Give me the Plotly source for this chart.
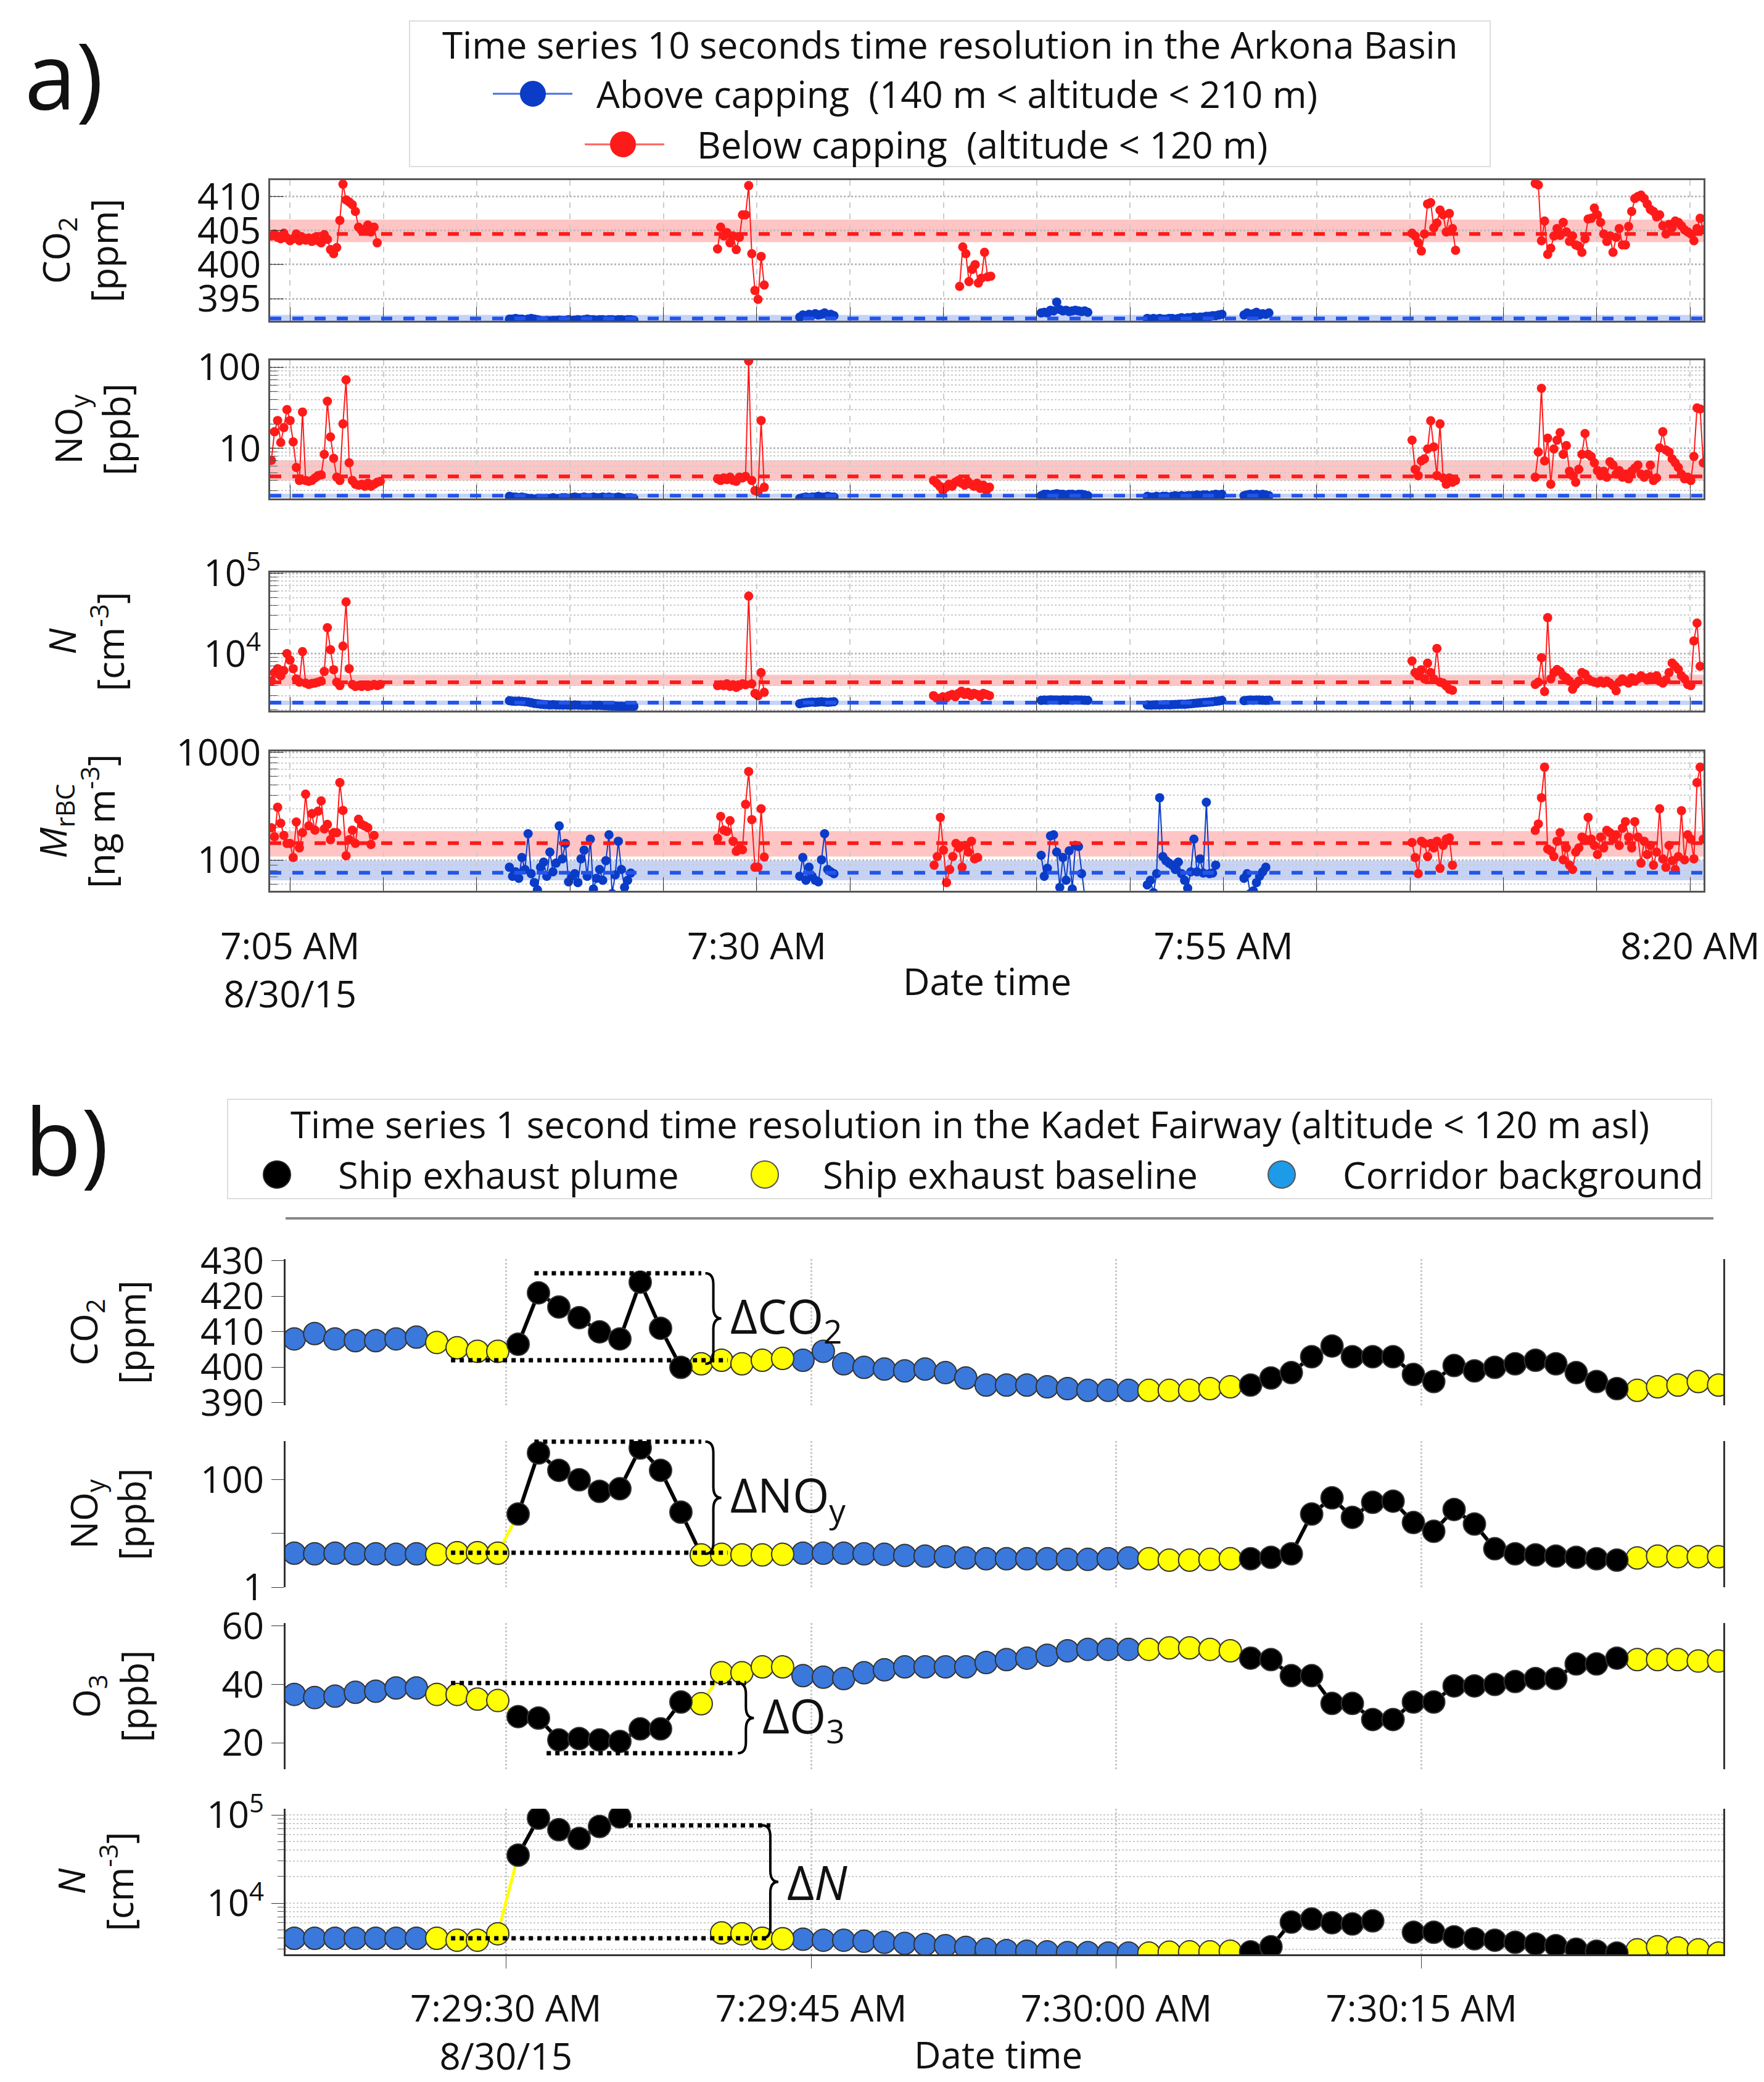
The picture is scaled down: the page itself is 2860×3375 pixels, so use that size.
import numpy as np
import pandas as pd
import plotly.graph_objects as go

DAY = "2015-08-30 "
FONT = "Open Sans"
RED = "#ff1a1a"
BLUE_A = "#0a3cc8"

# ---------------- Panel a data (10 s resolution) ----------------
co2_below = [
    ("07:04:00", [404.2,404.5,404.0,403.8,404.6,403.9,403.5,403.8,404.5,403.5,404.0,403.6,403.9,403.4,404.0,403.5,403.2,404.4,403.7,402.2,401.6,402.5,406.5,411.8,409.5,409.2,408.8,407.8,405.5,405.0,405.2,405.8,404.8,405.5,403.2]),
    ("07:27:54", [402.3,405.5,404.2,404.7,403.2,404.2,402.2,404.0,407.3,407.3,411.6,401.6,396.2,394.9,401.2,397.0]),
    ("07:40:52", [396.8,402.6,401.6,397.5,399.3,400.0,397.3,398.0,401.8,398.2,398.3]),
    ("08:05:06", [404.6,404.2,403.2,402.0,404.5,408.9,409.1,405.4,406.1,408.0,407.3,404.8,407.5,405.3,402.1]),
    ("08:11:42", [411.9,411.7,403.5,406.4,401.5,402.4,404.2,405.3,404.3,406.2,404.8,403.4,404.2,402.9,402.7,401.8,403.8,406.7,406.8,408.3,407.3,406.2,404.5,403.4,404.2,401.8,404.0,405.3,402.9,402.9,405.6,407.8,409.7,410.0,410.2,409.7,408.9,408.1,407.8,407.0,407.3,405.7,404.5,405.9,405.4,406.4,406.2,405.7,405.1,404.8,404.5,403.5,405.3,406.8,405.1,405.3]),
]
co2_above = [
    ("07:16:45", [392.0,392.0,392.1,392.0,392.0,391.9,392.0,392.1,392.0,391.9,391.8,391.75,391.8,391.75,391.8,391.8,391.85,391.8,391.8,391.9,391.8,391.85,391.9,391.85,391.9,392.0,391.9,391.9,391.85,391.9,391.9,391.85,391.9,391.9,391.85,391.9,391.9,391.85,391.9,391.9,391.85]),
    ("07:32:18", [392.3,392.6,392.5,392.7,392.6,392.8,392.6,392.7,392.9,392.6,392.7,392.5]),
    ("07:45:14", [392.9,393.0,392.9,393.3,393.2,394.5,393.4,393.2,393.3,393.1,393.2,393.3,393.2,393.1,393.2,393.0]),
    ("07:50:55", [392.1,392.0,392.1,392.0,392.1,392.0,392.0,392.1,392.1,392.0,392.1,392.2,392.1,392.2,392.2,392.3,392.2,392.3,392.3,392.4,392.4,392.5,392.5,392.6,392.7]),
    ("07:56:06", [392.6,392.9,392.7,392.8,393.0,392.6,392.8,392.7,392.9]),
]
noy_below = [
    ("07:04:00", [7.1,16,22,11.8,18,30,22,12,5.8,4.0,28,4.0,3.9,4.0,4.3,4.6,4.7,8.4,38,13.8,7.5,4.4,4.0,20,70,6.6,4.0,3.6,3.5,3.6,3.4,3.7,3.4,3.6,3.8,3.9]),
    ("07:27:54", [4.2,4.0,4.3,4.1,4.4,4.0,3.9,4.4,4.3,4.5,120,4.0,3.0,2.9,22,3.3]),
    ("07:39:28", [4.0,3.7,3.4,3.0,3.3,3.6,3.4,3.8,4.0,3.7,3.5,3.9,3.6,3.4,3.7,3.2,3.5,3.0,3.3]),
    ("08:05:06", [12.6,5.5,4.6,7.0,7.4,9.8,21.9,10.4,4.6,20,4.3,3.6,4.3,3.8,4.0]),
    ("08:11:42", [4.4,9.0,55,7.0,13.3,3.6,9.8,12.6,15.6,8.4,10.8,5.2,4.6,3.8,5.5,8.4,15.2,8.4,7.9,6.6,5.3,4.6,5.2,4.4,6.8,6.2,4.8,5.3,4.4,4.8,4.2,5.2,5.7,6.2,4.8,4.4,4.8,6.2,4.0,4.3,10.1,16,9.5,9.0,7.4,6.6,5.8,4.8,4.2,4.4,4.0,7.9,31.5,30.5,6.6]),
]
noy_above = [
    ("07:16:45", [2.55,2.5,2.5,2.45,2.5,2.45,2.4,2.4,2.35,2.4,2.4,2.35,2.4,2.4,2.45,2.4,2.4,2.45,2.45,2.4,2.45,2.5,2.45,2.45,2.5,2.45,2.45,2.5,2.45,2.45,2.5,2.45,2.5,2.45,2.45,2.5,2.45,2.4,2.45,2.45,2.4]),
    ("07:32:18", [2.4,2.45,2.5,2.45,2.5,2.5,2.55,2.5,2.5,2.55,2.5,2.5]),
    ("07:45:14", [2.6,2.7,2.7,2.65,2.7,2.75,2.7,2.7,2.65,2.7,2.7,2.65,2.7,2.7,2.65,2.6]),
    ("07:50:55", [2.55,2.5,2.5,2.55,2.5,2.55,2.55,2.5,2.55,2.6,2.55,2.6,2.55,2.6,2.6,2.6,2.65,2.6,2.65,2.65,2.6,2.65,2.7,2.65,2.7]),
    ("07:56:06", [2.6,2.65,2.7,2.65,2.7,2.65,2.7,2.65,2.6]),
]
n_below = [
    ("07:04:00", [4550,5800,6500,5300,6150,10000,8300,6500,4850,4420,10600,4300,4140,4250,4300,4420,4550,6000,21000,11200,6300,4420,4000,12400,44000,6500,4140,3900,4000,3900,4050,3900,4000,4140,4000,4140]),
    ("07:27:54", [4000,4100,4000,4200,3900,4100,3800,4000,4200,4100,52000,4200,3200,3000,5800,3300]),
    ("07:39:28", [3000,2800,2700,2900,2800,3000,3100,2900,3200,3400,3100,3300,3000,3200,3100,2900,3200,3100,3000]),
    ("08:05:06", [8100,5800,5300,6300,4850,7600,5800,4850,11600,4420,4300,3950,3600,3500]),
    ("08:11:42", [4140,4420,8900,3370,28000,4850,5800,6340,6000,5300,5000,4550,3600,4140,4550,5800,5550,4850,4550,4420,4300,4550,4300,4550,4300,4000,3450,4420,4850,4550,4300,5000,4550,4850,5300,5000,4700,5150,4850,5300,4550,4300,4700,5800,7640,6960,6340,5300,4850,4140,4000,14400,24000,6960]),
]
n_above = [
    ("07:16:45", [2600,2560,2550,2560,2540,2520,2500,2450,2400,2380,2350,2330,2320,2300,2320,2300,2300,2290,2300,2290,2280,2300,2290,2280,2280,2270,2290,2280,2270,2280,2260,2250,2240,2230,2230,2220,2220,2210,2210,2200,2210]),
    ("07:32:18", [2380,2420,2450,2480,2500,2480,2500,2520,2500,2480,2500,2520]),
    ("07:45:14", [2620,2650,2630,2660,2640,2650,2630,2660,2640,2650,2630,2660,2640,2650,2630,2620]),
    ("07:50:55", [2300,2290,2300,2310,2300,2310,2320,2310,2320,2330,2340,2350,2340,2360,2380,2400,2420,2440,2460,2480,2500,2520,2550,2580,2620]),
    ("07:56:06", [2600,2620,2640,2630,2650,2640,2630,2620,2630]),
]
m_below = [
    ("07:04:00", [200,165,310,220,170,143,143,106,226,130,180,410,208,270,190,285,355,195,215,155,180,180,525,290,110,155,190,143,240,215,208,200,140,170]),
    ("07:27:54", [160,255,190,185,233,150,121,128,125,330,665,238,86,86,300,107]),
    ("07:39:30", [90,108,250,124,62,82,108,143,130,86,137,119,150,103,106]),
    ("08:05:06", [146,106,75,150,143,108,143,130,150,84,137,157,161,90]),
    ("08:11:42", [189,217,380,730,127,122,108,150,180,101,130,90,82,119,130,164,157,250,157,137,113,164,130,189,180,157,172,137,198,228,164,130,228,164,94,150,113,137,90,119,300,103,86,137,99,82,108,288,101,172,157,103,525,730,157]),
]
m_above = [
    ("07:16:45", [86,71,78,68,106,82,176,75,62,53,86,96,71,119,78,94,208,103,143,63,71,75,62,103,124,71,157,54,68,82,65,99,172,49,73,150,82,56,65,76]),
    ("07:32:18", [71,106,65,86,71,65,63,101,176,82,78,75]),
    ("07:45:14", [111,71,84,168,172,119,56,106,65,122,54,137,134,75,47]),
    ("07:50:55", [59,65,50,75,380,108,99,94,90,82,96,75,65,55,78,157,78,103,76,345,75,76,90]),
    ("07:56:06", [68,75,49,52,62,71,78,86]),
]
# reference levels: (dashed value, band low, band high)
ref_below = {"co2": (404.5, 403.3, 406.6), "noy": (4.5, 4.0, 7.1), "n": (4400, 3980, 5460), "m": (144, 108, 186)}
ref_above = {"co2": (392.1, 391.75, 392.6), "noy": (2.6, 2.45, 2.75), "n": (2450, 2300, 2600), "m": (76.5, 65, 99)}

# ---------------- Panel b data (1 s resolution) ----------------
b_start = "07:29:19.6"
b_cat = (["c"]*7 + ["b"]*4 + ["p"]*9 + ["b"]*5 + ["c"]*17 + ["b"]*5 + ["p"]*19 + ["b"]*5)
b_co2 = [408,409.5,408,407.5,407.5,408,408.5, 407,405.5,404.5,404.5,
         406.5,421,417,414,410,408,424,411,400, 401,402,401,402,402.5,
         402,404.5,401,400,399.5,399,399.5,398.5,397,395,395,395,394.5,394,393.5,393.5,393.5,
         393.5,393.5,393.5,394,394.5,
         395,397,398.5,403,406,403,403,403,398,396,400.5,399,400,401,402,401,398.5,396,394,
         393.5,394.5,395,396,395]
b_noy = [4.3,4.2,4.3,4.2,4.2,4.1,4.2, 4.1,4.4,4.4,4.3,
         23,316,150,100,61,68,390,150,25, 4.0,4.1,4.0,4.0,4.1,
         4.3,4.3,4.3,4.2,4.1,3.9,3.8,3.7,3.5,3.4,3.4,3.4,3.4,3.3,3.3,3.4,3.5,
         3.4,3.2,3.2,3.3,3.4,
         3.4,3.6,4.2,23,46,20,38,40,16,11,28,15,5.2,4.2,4.0,3.8,3.6,3.4,3.2,
         3.5,3.8,3.7,3.7,3.7]
b_o3 = [36.6,35.5,36,37.3,37.7,38.8,38.8, 36.6,36.6,35,34.5,
        29,28.5,21,21.5,21,20.5,24.8,24.8,34, 33.4,44,44,46,46,
        43,42.5,42,44,45,46,46,46,46,47.5,48.5,49,50,51.5,52,52,52,
        52,52.5,52.5,52,51.5,
        49,48.5,43,43,33.5,33.5,28,28,34,34,39.5,39.5,40,41,42,42,47,47,49,
        48.5,48.5,48.5,48,48]
b_n = [4000,4000,4000,4000,4000,4000,4000, 4000,3800,3800,4500,
       35000,92000,68000,54000,74000,95000,None,None,None, None,4600,4500,4000,3950,
       3900,3800,3800,3700,3600,3500,3400,3300,3150,3000,2900,2850,2800,2750,2750,2720,2720,
       2720,2780,2800,2800,2850,
       2800,3200,6100,6600,6000,5800,6300,None,4670,4670,4150,3950,3800,3600,3450,3300,3000,2850,2720,
       2950,3200,3100,2950,2720]

# ---------------- layout geometry ----------------
W, H = 2860, 3375
XA = [430/W, 2754/W]
XB = [455/W, 2786/W]
def ydom(top, bot):
    return [1 - bot/H, 1 - top/H]
A_ROWS = [ydom(284, 512), ydom(576, 800), ydom(920, 1144), ydom(1210, 1436)]
B_ROWS = [ydom(2033, 2270), ydom(2328, 2565), ydom(2623, 2860), ydom(2924, 3160)]

a_range = [pd.Timestamp(DAY + "07:03:56"), pd.Timestamp(DAY + "08:20:43")]
b_range = [pd.Timestamp(DAY + "07:29:19.17"), pd.Timestamp(DAY + "07:30:29.83")]

a_yr = [[391.75, 412.4], [np.log10(2.4), np.log10(122)], [np.log10(1950), 5.01], [np.log10(52), 3.01]]
a_log = [False, True, True, True]
b_yr = [[389.3, 430.5], [0, 2.72], [11, 61], [np.log10(2630), 5.07]]
b_log = [False, True, False, True]

fig = go.Figure()

def seg_xy(segs):
    xs, ys = [], []
    for start, vals in segs:
        t = pd.Timestamp(DAY + start) + pd.to_timedelta(10*np.arange(len(vals)), "s")
        xs += list(t) + [None]
        ys += list(vals) + [None]
    return xs, ys

keys = ["co2", "noy", "n", "m"]
below = [co2_below, noy_below, n_below, m_below]
above = [co2_above, noy_above, n_above, m_above]
for r in range(4):
    ax = "" if r == 0 else str(r + 1)
    for ref, col, fill in [(ref_below[keys[r]], "#ff1a1a", "rgba(255,80,80,0.33)"),
                           (ref_above[keys[r]], "#2255ee", "rgba(90,130,240,0.35)")]:
        fig.add_shape(type="rect", xref=f"x{ax} domain", yref="y" + ax, x0=0, x1=1,
                      y0=ref[1], y1=ref[2], fillcolor=fill, line_width=0, layer="below")
        fig.add_shape(type="line", xref=f"x{ax} domain", yref="y" + ax, x0=0, x1=1,
                      y0=ref[0], y1=ref[0], line=dict(color=col, width=6, dash="dash"))
    for segs, col in [(above[r], BLUE_A), (below[r], RED)]:
        xs, ys = seg_xy(segs)
        fig.add_trace(go.Scatter(x=xs, y=ys, mode="lines+markers", xaxis="x" + ax, yaxis="y" + ax,
                                 line=dict(color=col, width=2), marker=dict(color=col, size=15),
                                 showlegend=False, connectgaps=False))

# panel b
bt = pd.Timestamp(DAY + b_start) + pd.to_timedelta(np.arange(len(b_cat)), "s")
COLS = {"p": "#000000", "b": "#ffff00", "c": "#3a78dc"}
for r, vals in enumerate([b_co2, b_noy, b_o3, b_n]):
    ax = str(r + 5)
    for cat in ["c", "b", "p"]:
        xs, ys = [], []
        for i in range(len(vals) - 1):
            if b_cat[i] == cat and vals[i] is not None and vals[i+1] is not None:
                xs += [bt[i], bt[i+1], None]
                ys += [vals[i], vals[i+1], None]
        lw = 6 if cat == "p" else 5
        fig.add_trace(go.Scatter(x=xs, y=ys, mode="lines", xaxis="x" + ax, yaxis="y" + ax,
                                 line=dict(color=COLS[cat], width=lw), showlegend=False))
    for cat in ["c", "b", "p"]:
        idx = [i for i in range(len(vals)) if b_cat[i] == cat and vals[i] is not None]
        fig.add_trace(go.Scatter(x=[bt[i] for i in idx], y=[vals[i] for i in idx], mode="markers",
                                 xaxis="x" + ax, yaxis="y" + ax, showlegend=False,
                                 marker=dict(color=COLS[cat], size=36, line=dict(color="#333333", width=2))))

# ---------------- axes ----------------
lay = {}
five_min = pd.date_range(DAY + "07:05", DAY + "08:20", freq="5min")
major_a = {"07:05": "7:05 AM<br>8/30/15", "07:30": "7:30 AM", "07:55": "7:55 AM", "08:20": "8:20 AM"}
a_text = [major_a.get(t.strftime("%H:%M"), "") for t in five_min]
FS = 60
tickfont = dict(family=FONT, size=FS, color="#111")
for r in range(4):
    n = "" if r == 0 else str(r + 1)
    lay["xaxis" + n] = dict(domain=XA, anchor="y" + n, range=a_range, type="date", automargin=False,
                            tickvals=list(five_min), ticktext=a_text if r == 3 else [""]*len(five_min),
                            showticklabels=(r == 3), ticks="inside", ticklen=22, tickcolor="#333",
                            showgrid=True, gridcolor="#cccccc", griddash="dash", gridwidth=2,
                            showline=True, linecolor="#555", linewidth=3, mirror=True,
                            tickfont=tickfont, ticklabelstandoff=36, zeroline=False)
A_TITLES = ["CO<sub>2</sub><br>[ppm]", "NO<sub>y</sub><br>[ppb]", "<i>N</i><br>[cm<sup>-3</sup>]",
            "<i>M</i><sub>rBC</sub><br>[ng m<sup>-3</sup>]"]
minor_noy = [3,4,5,6,7,8,9,20,30,40,50,60,70,80,90]
minor_n = [2000,3000,4000,5000,6000,7000,8000,9000,20000,30000,40000,50000,60000,70000,80000,90000]
minor_m = [60,70,80,90,200,300,400,500,600,700,800,900]
a_ticks = [dict(tickvals=[395,400,405,410], ticktext=["395","400","405","410"]),
           dict(tickvals=[10,100], ticktext=["10","100"], minor=minor_noy),
           dict(tickvals=[1e4,1e5], ticktext=["10<sup>4</sup>","10<sup>5</sup>"], minor=minor_n),
           dict(tickvals=[100,1000], ticktext=["100","1000"], minor=minor_m)]
A_STAND = [110, 90, 110, 80]
for r in range(4):
    n = "" if r == 0 else str(r + 1)
    d = dict(domain=A_ROWS[r], anchor="x" + n, range=a_yr[r], type="log" if a_log[r] else "linear",
             automargin=False,
             showgrid=True, gridcolor="#bbbbbb", griddash="dot", gridwidth=3,
             ticks="inside", ticklen=22, tickcolor="#333", showline=True, linecolor="#555",
             linewidth=3, mirror=True, tickfont=tickfont, zeroline=False,
             title=dict(text=A_TITLES[r], font=dict(family=FONT, size=FS, color="#111"), standoff=A_STAND[r]),
             tickvals=a_ticks[r]["tickvals"], ticktext=a_ticks[r]["ticktext"])
    if "minor" in a_ticks[r]:
        d["minor"] = dict(tickvals=a_ticks[r]["minor"], ticks="inside", ticklen=12, tickcolor="#555",
                          showgrid=True, gridcolor="#cccccc", griddash="dot", gridwidth=2)
    lay["yaxis" + n] = d

b_ticks = pd.to_datetime([DAY + "07:29:30", DAY + "07:29:45", DAY + "07:30:00", DAY + "07:30:15"])
b_text = ["7:29:30 AM<br>8/30/15", "7:29:45 AM", "7:30:00 AM", "7:30:15 AM"]
for r in range(4):
    n = str(r + 5)
    lay["xaxis" + n] = dict(domain=XB, anchor="y" + n, range=b_range, type="date", automargin=False,
                            tickvals=list(b_ticks), ticktext=b_text if r == 3 else [""]*4,
                            showticklabels=(r == 3), ticks="outside" if r == 3 else "", ticklen=20,
                            showgrid=True, gridcolor="#c8c8c8", griddash="dot", gridwidth=3,
                            showline=(r == 3), linecolor="#333", linewidth=3,
                            tickfont=tickfont, ticklabelstandoff=14, zeroline=False)
B_TITLES = ["CO<sub>2</sub><br>[ppm]", "NO<sub>y</sub><br>[ppb]", "O<sub>3</sub><br>[ppb]", "<i>N</i><br>[cm<sup>-3</sup>]"]
b_tk = [dict(tickvals=[390,400,410,420,430], ticktext=["390","400","410","420","430"]),
        dict(tickvals=[1,10,100], ticktext=["1","","100"]),
        dict(tickvals=[20,40,60], ticktext=["20","40","60"]),
        dict(tickvals=[1e4,1e5], ticktext=["10<sup>4</sup>","10<sup>5</sup>"])]
B_STAND = [70, 70, 100, 100]
for r in range(4):
    n = str(r + 5)
    d = dict(domain=B_ROWS[r], anchor="x" + n, range=b_yr[r], type="log" if b_log[r] else "linear",
             automargin=False,
             showgrid=(r == 3), gridcolor="#cccccc", griddash="dot", gridwidth=2,
             ticks="outside", ticklen=20, tickcolor="#333", showline=True, linecolor="#333",
             linewidth=3, mirror=True, tickfont=tickfont, zeroline=False,
             title=dict(text=B_TITLES[r], font=dict(family=FONT, size=FS, color="#111"), standoff=B_STAND[r]),
             tickvals=b_tk[r]["tickvals"], ticktext=b_tk[r]["ticktext"])
    if r == 3:
        d["minor"] = dict(tickvals=minor_n + [2e5], ticks="outside", ticklen=10, tickcolor="#555",
                          showgrid=True, gridcolor="#cccccc", griddash="dot", gridwidth=2)
    lay["yaxis" + n] = d

fig.update_layout(**lay)

# ---------------- brackets in panel b ----------------
def px_x(t):
    t = pd.Timestamp(DAY + t)
    f = (t - b_range[0]) / (b_range[1] - b_range[0])
    return XB[0] + f * (XB[1] - XB[0])
def px_y(v, r):
    lo, hi = b_yr[r]
    vv = np.log10(v) if b_log[r] else v
    f = (vv - lo) / (hi - lo)
    return B_ROWS[r][0] + f * (B_ROWS[r][1] - B_ROWS[r][0])

def dotted(r, t0, t1, v):
    y = px_y(v, r)
    fig.add_shape(type="line", xref="paper", yref="paper", x0=px_x(t0), x1=px_x(t1), y0=y, y1=y,
                  line=dict(color="black", width=7, dash="dot"))

def brace(r, t, vtop, vbot, label):
    x0 = px_x(t); w = 26 / W
    yt, yb = px_y(vtop, r), px_y(vbot, r)
    ym = (yt + yb) / 2; c = 18 / H
    xm = x0 + w / 2
    path = (f"M {x0},{yt} Q {xm},{yt} {xm},{yt-c} L {xm},{ym+c} Q {xm},{ym} {x0+w},{ym} "
            f"Q {xm},{ym} {xm},{ym-c} L {xm},{yb+c} Q {xm},{yb} {x0},{yb}")
    fig.add_shape(type="path", xref="paper", yref="paper", path=path, line=dict(color="black", width=4))
    fig.add_annotation(xref="paper", yref="paper", x=x0 + w + 12/W, y=ym, text=label, showarrow=False,
                       xanchor="left", yanchor="middle", font=dict(family=FONT, size=76, color="#111"))

dotted(0, "07:29:31.4", "07:29:39.6", 426.5); dotted(0, "07:29:27.3", "07:29:40.9", 402)
brace(0, "07:29:39.8", 426.5, 401, "ΔCO<sub>2</sub>")
dotted(1, "07:29:31.4", "07:29:39.6", 510); dotted(1, "07:29:27.3", "07:29:40.9", 4.4)
brace(1, "07:29:39.8", 510, 4.2, "ΔNO<sub>y</sub>")
dotted(2, "07:29:27.3", "07:29:41.8", 40.5); dotted(2, "07:29:32.0", "07:29:41.2", 16.5)
brace(2, "07:29:41.4", 40.5, 16.5, "ΔO<sub>3</sub>")
dotted(3, "07:29:35.6", "07:29:43.0", 76000); dotted(3, "07:29:27.3", "07:29:43.0", 4000)
brace(3, "07:29:42.6", 76000, 4000, "Δ<i>N</i>")

# ---------------- legends (drawn) ----------------
def ann(x, y, text, size=FS, anchor="left"):
    fig.add_annotation(xref="paper", yref="paper", x=x / W, y=1 - y / H, text=text, showarrow=False,
                       xanchor=anchor, yanchor="middle", font=dict(family=FONT, size=size, color="#111"))
def circle(cx, cy, d, col, lc):
    fig.add_shape(type="circle", xref="paper", yref="paper", x0=(cx - d/2)/W, x1=(cx + d/2)/W,
                  y0=1 - (cy + d/2)/H, y1=1 - (cy - d/2)/H, fillcolor=col, line=dict(color=lc, width=2))
def hline(x0, x1, y, col, w=3):
    fig.add_shape(type="line", xref="paper", yref="paper", x0=x0/W, x1=x1/W, y0=1-y/H, y1=1-y/H,
                  line=dict(color=col, width=w))

fig.add_shape(type="rect", xref="paper", yref="paper", x0=656/W, x1=2408/W, y0=1-262/H, y1=1-26/H,
              line=dict(color="#dddddd", width=2), fillcolor="white")
ann(1532, 64, "Time series 10 seconds time resolution in the Arkona Basin", anchor="center")
hline(791, 920, 144, "#4a6ee0"); circle(856, 144, 40, "#0a3cc8", "#0a3cc8")
ann(957, 144, "Above capping  (140 m < altitude < 210 m)")
hline(940, 1069, 226, "#ff6060"); circle(1002, 226, 40, "#ff1a1a", "#ff1a1a")
ann(1120, 226, "Below capping  (altitude < 120 m)")

fig.add_shape(type="rect", xref="paper", yref="paper", x0=361/W, x1=2767/W, y0=1-1935/H, y1=1-1774/H,
              line=dict(color="#dddddd", width=2), fillcolor="white")
ann(1564, 1814, "Time series 1 second time resolution in the Kadet Fairway (altitude < 120 m asl)", anchor="center")
circle(441, 1896, 44, "#000000", "#222"); ann(538, 1896, "Ship exhaust plume")
circle(1232, 1896, 44, "#ffff00", "#555"); ann(1324, 1896, "Ship exhaust baseline")
circle(2070, 1896, 44, "#1e9be8", "#555"); ann(2167, 1896, "Corridor background")
hline(455, 2770, 1967, "#888888", 4)

ann(1592, 1582, "Date time", anchor="center")
ann(1610, 3322, "Date time", anchor="center")
ann(30, 112, "a)", size=150)
ann(30, 1840, "b)", size=150)

fig.update_layout(width=W, height=H, margin=dict(l=0, r=0, t=0, b=0), paper_bgcolor="white",
                  plot_bgcolor="white", showlegend=False, font=dict(family=FONT, size=FS))
fig.write_html("out.html")
